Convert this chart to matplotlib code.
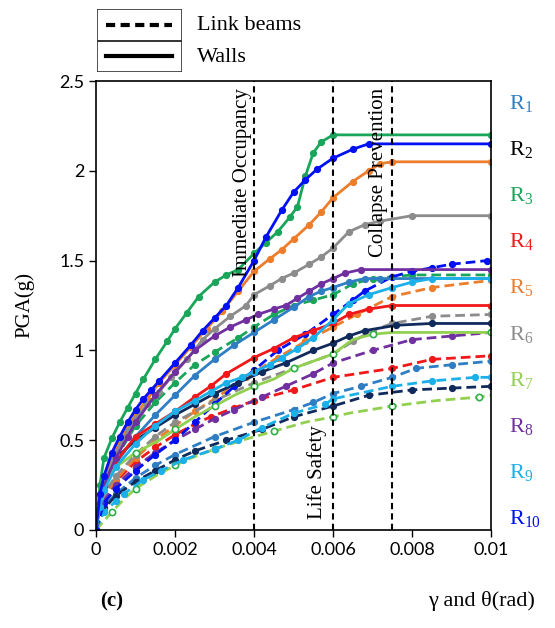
import matplotlib
matplotlib.use('Agg')
import matplotlib.pyplot as plt
from matplotlib.lines import Line2D
from matplotlib.patches import Rectangle

####################### DATA ###############################
labels = ['R1', 'R2', 'R3', 'R4', 'R5', 'R6', 'R7', 'R8', 'R9', 'R10']

# walls (solid)
r1_wall_x = [0, 0.0001, 0.0002, 0.0005, 0.001, 0.0015, 0.002, 0.0025, 0.003, 0.0035, 0.004, 0.0045, 0.005, 0.0054, 0.0057, 0.006, 0.0064, 0.0068, 0.0072, 0.01]
r1_wall_y = [0, 0.15, 0.24, 0.37, 0.52, 0.64, 0.75, 0.86, 0.95, 1.03, 1.1, 1.17, 1.24, 1.3, 1.33, 1.35, 1.38, 1.4, 1.4, 1.4]
r2_wall_x = [0, 0.0001, 0.0002, 0.0005, 0.001, 0.0015, 0.002, 0.0025, 0.003, 0.0036, 0.0042, 0.0048, 0.0055, 0.006, 0.0064, 0.0068, 0.0076, 0.0085, 0.01]
r2_wall_y = [0, 0.18, 0.3, 0.4, 0.5, 0.57, 0.64, 0.7, 0.76, 0.82, 0.88, 0.93, 1.0, 1.04, 1.08, 1.11, 1.14, 1.15, 1.15]
r3_wall_x = [0, 0.0001, 0.0002, 0.0004, 0.0006, 0.0008, 0.001, 0.0012, 0.0015, 0.0018, 0.002, 0.0023, 0.0026, 0.003, 0.0033, 0.0036, 0.004, 0.0043, 0.0046, 0.0049, 0.0051, 0.0053, 0.0055, 0.0057, 0.006, 0.01]
r3_wall_y = [0, 0.25, 0.4, 0.51, 0.6, 0.68, 0.76, 0.84, 0.95, 1.05, 1.12, 1.21, 1.3, 1.38, 1.42, 1.45, 1.54, 1.6, 1.66, 1.74, 1.8, 1.97, 2.1, 2.16, 2.2, 2.2]
r4_wall_x = [0, 0.0001, 0.0002, 0.0005, 0.001, 0.0015, 0.002, 0.0025, 0.0029, 0.0033, 0.004, 0.0045, 0.005, 0.0055, 0.006, 0.0064, 0.0069, 0.0075, 0.01]
r4_wall_y = [0, 0.15, 0.25, 0.38, 0.52, 0.59, 0.66, 0.74, 0.8, 0.87, 0.96, 1.01, 1.07, 1.11, 1.15, 1.2, 1.23, 1.25, 1.25]
r5_wall_x = [0, 0.0001, 0.0002, 0.0004, 0.0006, 0.0008, 0.001, 0.0013, 0.0016, 0.002, 0.0024, 0.0028, 0.0032, 0.0036, 0.004, 0.0044, 0.0047, 0.005, 0.0054, 0.0057, 0.006, 0.0065, 0.0069, 0.0072, 0.0075, 0.01]
r5_wall_y = [0, 0.18, 0.28, 0.41, 0.5, 0.57, 0.64, 0.73, 0.82, 0.92, 1.02, 1.12, 1.22, 1.33, 1.44, 1.51, 1.56, 1.62, 1.7, 1.77, 1.85, 1.94, 2.0, 2.04, 2.05, 2.05]
r6_wall_x = [0, 0.0001, 0.0002, 0.0005, 0.0008, 0.001, 0.0013, 0.0016, 0.0019, 0.0023, 0.0027, 0.003, 0.0034, 0.0038, 0.004, 0.0044, 0.0047, 0.005, 0.0054, 0.0057, 0.006, 0.0064, 0.0068, 0.0072, 0.008, 0.01]
r6_wall_y = [0, 0.15, 0.26, 0.43, 0.55, 0.62, 0.7, 0.77, 0.85, 0.95, 1.06, 1.12, 1.19, 1.25, 1.31, 1.36, 1.4, 1.43, 1.48, 1.52, 1.57, 1.66, 1.7, 1.72, 1.75, 1.75]
r7_wall_x = [0, 0.0001, 0.0002, 0.0005, 0.001, 0.0016, 0.002, 0.0025, 0.003, 0.0035, 0.004, 0.0045, 0.005, 0.0055, 0.006, 0.0065, 0.007, 0.0075, 0.01]
r7_wall_y = [0, 0.18, 0.28, 0.35, 0.43, 0.5, 0.56, 0.63, 0.69, 0.75, 0.8, 0.84, 0.9, 0.94, 0.98, 1.06, 1.09, 1.1, 1.1]
r8_wall_x = [0, 0.0001, 0.0002, 0.0005, 0.0008, 0.001, 0.0015, 0.002, 0.0025, 0.003, 0.0034, 0.0038, 0.0041, 0.0045, 0.0048, 0.0051, 0.0054, 0.0057, 0.006, 0.0063, 0.0067, 0.01]
r8_wall_y = [0, 0.15, 0.25, 0.4, 0.52, 0.6, 0.75, 0.88, 1.0, 1.08, 1.13, 1.17, 1.2, 1.23, 1.25, 1.29, 1.33, 1.37, 1.4, 1.43, 1.45, 1.45]
r9_wall_x = [0, 0.0001, 0.0002, 0.0005, 0.001, 0.0015, 0.002, 0.0025, 0.0029, 0.0033, 0.0037, 0.004, 0.0044, 0.0047, 0.0051, 0.0055, 0.006, 0.0064, 0.0069, 0.0075, 0.008, 0.0085, 0.01]
r9_wall_y = [0, 0.13, 0.22, 0.35, 0.48, 0.58, 0.66, 0.72, 0.77, 0.82, 0.85, 0.88, 0.92, 0.96, 1.01, 1.07, 1.17, 1.26, 1.31, 1.35, 1.38, 1.4, 1.4]
r10_wall_x = [0, 0.0001, 0.0002, 0.0004, 0.0006, 0.0008, 0.001, 0.0012, 0.0014, 0.0016, 0.002, 0.0024, 0.0027, 0.003, 0.0033, 0.0036, 0.004, 0.0043, 0.0047, 0.005, 0.0053, 0.0056, 0.006, 0.0065, 0.0069, 0.01]
r10_wall_y = [0, 0.2, 0.3, 0.43, 0.52, 0.6, 0.67, 0.73, 0.78, 0.83, 0.93, 1.03, 1.11, 1.18, 1.25, 1.35, 1.5, 1.63, 1.78, 1.88, 1.95, 2.01, 2.07, 2.12, 2.15, 2.15]

# link beams (dashed)
r1_link_x = [0, 0.0002, 0.0005, 0.001, 0.0015, 0.002, 0.003, 0.004, 0.005, 0.0055, 0.006, 0.0067, 0.0075, 0.0081, 0.009, 0.01]
r1_link_y = [0, 0.13, 0.2, 0.29, 0.36, 0.42, 0.52, 0.6, 0.67, 0.71, 0.76, 0.8, 0.85, 0.9, 0.92, 0.94]
r2_link_x = [0, 0.0002, 0.0005, 0.001, 0.0015, 0.002, 0.0025, 0.0033, 0.0042, 0.005, 0.006, 0.0069, 0.008, 0.009, 0.01]
r2_link_y = [0, 0.12, 0.19, 0.27, 0.33, 0.39, 0.44, 0.5, 0.56, 0.63, 0.69, 0.75, 0.78, 0.79, 0.8]
r3_link_x = [0, 0.0002, 0.0005, 0.001, 0.0015, 0.002, 0.0025, 0.003, 0.0036, 0.004, 0.0045, 0.005, 0.0055, 0.006, 0.0065, 0.007, 0.008, 0.01]
r3_link_y = [0, 0.25, 0.4, 0.58, 0.71, 0.82, 0.92, 0.99, 1.07, 1.13, 1.2, 1.25, 1.28, 1.31, 1.37, 1.4, 1.42, 1.42]
r4_link_x = [0, 0.0002, 0.0005, 0.001, 0.0015, 0.002, 0.0025, 0.0029, 0.0035, 0.004, 0.005, 0.006, 0.0075, 0.0085, 0.01]
r4_link_y = [0, 0.17, 0.27, 0.38, 0.46, 0.53, 0.59, 0.63, 0.68, 0.72, 0.78, 0.85, 0.9, 0.95, 0.97]
r5_link_x = [0, 0.0002, 0.0005, 0.001, 0.0015, 0.002, 0.0025, 0.003, 0.0038, 0.0046, 0.0053, 0.006, 0.0066, 0.0075, 0.0085, 0.01]
r5_link_y = [0, 0.18, 0.28, 0.4, 0.5, 0.58, 0.66, 0.73, 0.85, 0.96, 1.05, 1.13, 1.2, 1.3, 1.35, 1.39]
r6_link_x = [0, 0.0002, 0.0005, 0.001, 0.0015, 0.002, 0.003, 0.004, 0.005, 0.006, 0.0065, 0.007, 0.0075, 0.0085, 0.01]
r6_link_y = [0, 0.2, 0.3, 0.42, 0.52, 0.6, 0.72, 0.82, 0.9, 0.98, 1.05, 1.11, 1.15, 1.19, 1.2]
r7_link_x = [0, 0.0002, 0.0004, 0.0007, 0.001, 0.0015, 0.002, 0.0024, 0.003, 0.0037, 0.0045, 0.0053, 0.006, 0.0064, 0.0075, 0.0086, 0.0097, 0.01]
r7_link_y = [0, 0.05, 0.1, 0.17, 0.23, 0.3, 0.36, 0.4, 0.45, 0.5, 0.55, 0.6, 0.63, 0.65, 0.69, 0.72, 0.74, 0.75]
r8_link_x = [0, 0.0002, 0.0005, 0.001, 0.0015, 0.002, 0.0025, 0.003, 0.0035, 0.0042, 0.0048, 0.0055, 0.006, 0.007, 0.008, 0.009, 0.01]
r8_link_y = [0, 0.16, 0.25, 0.35, 0.43, 0.5, 0.56, 0.62, 0.67, 0.74, 0.8, 0.87, 0.93, 1.0, 1.06, 1.08, 1.1]
r9_link_x = [0, 0.0002, 0.0005, 0.0007, 0.0012, 0.00165, 0.0022, 0.003, 0.0036, 0.0042, 0.005, 0.0058, 0.006, 0.0075, 0.0085, 0.0096, 0.01]
r9_link_y = [0, 0.1, 0.16, 0.2, 0.28, 0.33, 0.39, 0.45, 0.5, 0.57, 0.65, 0.7, 0.73, 0.8, 0.83, 0.85, 0.85]
r10_link_x = [0, 0.0002, 0.0005, 0.001, 0.0015, 0.002, 0.0025, 0.003, 0.0035, 0.004, 0.0046, 0.0053, 0.006, 0.0065, 0.0068, 0.0075, 0.008, 0.0085, 0.009, 0.0099]
r10_link_y = [0, 0.15, 0.23, 0.33, 0.42, 0.5, 0.6, 0.7, 0.8, 0.89, 1.0, 1.09, 1.2, 1.28, 1.33, 1.41, 1.44, 1.46, 1.48, 1.5]

walls = [(r1_wall_x, r1_wall_y), (r2_wall_x, r2_wall_y), (r3_wall_x, r3_wall_y),
         (r4_wall_x, r4_wall_y), (r5_wall_x, r5_wall_y), (r6_wall_x, r6_wall_y),
         (r7_wall_x, r7_wall_y), (r8_wall_x, r8_wall_y), (r9_wall_x, r9_wall_y),
         (r10_wall_x, r10_wall_y)]
links = [(r1_link_x, r1_link_y), (r2_link_x, r2_link_y), (r3_link_x, r3_link_y),
         (r4_link_x, r4_link_y), (r5_link_x, r5_link_y), (r6_link_x, r6_link_y),
         (r7_link_x, r7_link_y), (r8_link_x, r8_link_y), (r9_link_x, r9_link_y),
         (r10_link_x, r10_link_y)]

line_colors = ['#2f7ec4', '#102a5c', '#1aa65a', '#f01818', '#ec7d2c',
               '#8c8c8c', '#92d050', '#7030a0', '#1cb0ea', '#0010f5']
label_colors = ['#2f7ec4', '#000000', '#1aa65a', '#f01818', '#ec7d2c',
                '#8c8c8c', '#92d050', '#7030a0', '#1cb0ea', '#0010f5']

limits = [0.004, 0.006, 0.0075]
limit_names = ['Immediate Occupancy', 'Life Safety', 'Collapse Prevention']

xticks = [0, 0.002, 0.004, 0.006, 0.008, 0.01]
xtick_labels = ['0', '0.002', '0.004', '0.006', '0.008', '0.01']
yticks = [0, 0.5, 1, 1.5, 2, 2.5]
ytick_labels = ['0', '0.5', '1', '1.5', '2', '2.5']

####################### PLOT ###############################
serif = ['Liberation Serif', 'DejaVu Serif']
plt.rcParams['mathtext.fontset'] = 'custom'
plt.rcParams['mathtext.rm'] = 'Liberation Serif'
plt.rcParams['mathtext.it'] = 'Liberation Serif'

fig = plt.figure(figsize=(5.55, 6.28), dpi=100)
ax = fig.add_axes([96 / 555, 1 - 530 / 628, 395 / 555, 449 / 628])


def draw(xs, ys, color, ls):
    if color == '#92d050':
        ax.plot(xs, ys, ls=ls, color=color, lw=2, marker='o', ms=4.5,
                mfc='white', mec='#2fb04a', mew=1.2, markevery=2)
    else:
        ax.plot(xs, ys, ls=ls, color=color, lw=2, marker='o', ms=4.2,
                mec=color, mfc=color)


for (lx, ly), c in zip(links, line_colors):
    draw(lx, ly, c, (0, (3.5, 1.8)))
for (wx, wy), c in zip(walls, line_colors):
    draw(wx, wy, c, '-')

for xv in limits:
    ax.axvline(xv, color='black', lw=1.5, ls=(0, (3, 2)))

ax.text(0.0037, 2.46, limit_names[0], rotation=90, ha='center', va='top',
        family=serif, fontsize=15)
ax.text(0.0056, 0.06, limit_names[1], rotation=90, ha='center', va='bottom',
        family=serif, fontsize=15)
ax.text(0.00715, 2.46, limit_names[2], rotation=90, ha='center', va='top',
        family=serif, fontsize=15)

ax.set_xlim(0, 0.01)
ax.set_ylim(0, 2.5)
ax.set_xticks(xticks)
ax.set_xticklabels(xtick_labels, family=['Lato', 'DejaVu Sans'], fontsize=13)
ax.set_yticks(yticks)
ax.set_yticklabels(ytick_labels, family=['Lato', 'DejaVu Sans'], fontsize=13)
ax.tick_params(direction='out', length=5, width=1)
for s in ax.spines.values():
    s.set_linewidth(1.2)

ax.set_ylabel('PGA(g)', family=serif, fontsize=15, labelpad=18)

# R labels on the right
for i, (name, c) in enumerate(zip(labels, label_colors)):
    yy = 0.949 - i * 0.1025
    ax.text(1.045, yy, r'$\mathrm{R}_{\mathrm{%s}}$' % name[1:], transform=ax.transAxes,
            color=c, fontsize=16, ha='left', va='center')

fig.text(100 / 555, 1 - 601 / 628, '(c)', family=serif, fontsize=15,
         fontweight='bold', ha='left', va='center')
fig.text(535 / 555, 1 - 601 / 628, 'γ and θ(rad)', family=serif, fontsize=16,
         ha='right', va='center')

# legend boxes at the top
lax = fig.add_axes([97 / 555, 1 - 72 / 628, 85 / 555, 63 / 628])
lax.set_xlim(0, 1)
lax.set_ylim(0, 2)
lax.axis('off')
lax.add_patch(Rectangle((0, 1), 1, 1, fill=False, lw=1.2, ec='#333333'))
lax.add_patch(Rectangle((0, 0), 1, 1, fill=False, lw=1.2, ec='#333333'))
lax.add_line(Line2D([0.1, 0.88], [1.5, 1.5], color='black', lw=3, ls=(0, (2.2, 1.3))))
lax.add_line(Line2D([0.1, 0.88], [0.5, 0.5], color='black', lw=3))
fig.text(197 / 555, 1 - 25 / 628, 'Link beams', family=serif, fontsize=16,
         ha='left', va='center')
fig.text(197 / 555, 1 - 57 / 628, 'Walls', family=serif, fontsize=16,
         ha='left', va='center')

plt.savefig('out.png', dpi=100)
plt.close()
